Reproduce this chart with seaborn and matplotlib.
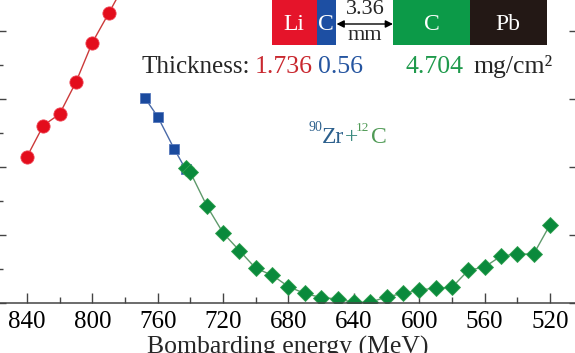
import numpy as np
import pandas as pd
import matplotlib
matplotlib.use('Agg')
import matplotlib.pyplot as plt
import seaborn as sns
from matplotlib.patches import Rectangle
from matplotlib.ticker import MultipleLocator

# data (y in arbitrary units, labels are cropped away)
red_energy = [840, 830, 820, 810, 800, 790, 780]
red_y = [2.15, 2.61, 2.78, 3.25, 3.83, 4.26, 4.70]
blue_energy = [768, 760, 750, 743]
blue_y = [3.02, 2.74, 2.27, 1.97]
green_energy = [743, 740, 730, 720, 710, 700, 690, 680, 670, 660, 650, 640,
                630, 620, 610, 600, 590, 580, 570, 560, 550, 540, 530, 520]
green_y = [1.98, 1.92, 1.43, 1.03, 0.77, 0.51, 0.41, 0.24, 0.14, 0.08, 0.06, 0.01,
           0.01, 0.09, 0.14, 0.19, 0.22, 0.23, 0.48, 0.53, 0.69, 0.72, 0.72, 1.15]
x_ticks = [840, 800, 760, 720, 680, 640, 600, 560, 520]

layers = ['Li', 'C', 'C', 'Pb']
layer_colors = ['#e5142a', '#1d4fa3', '#0c9a48', '#231815']
thickness = ['1.736', '0.56', '4.704']
thick_colors = ['#c9282f', '#2555a0', '#1f9a4c']

sns.set_theme(style='ticks')
plt.rcParams['font.family'] = ['Liberation Serif', 'DejaVu Serif']

fig = plt.figure(figsize=(5.75, 3.53), dpi=100)
ax = fig.add_axes([-1 / 575, 50 / 353, 577 / 575, 340 / 353])

red = pd.DataFrame({'E': red_energy, 'y': red_y})
blue = pd.DataFrame({'E': blue_energy, 'y': blue_y})
green = pd.DataFrame({'E': green_energy, 'y': green_y})

sns.lineplot(data=red, x='E', y='y', sort=False, ax=ax, color='#cc3a3a', lw=1.0,
             marker='o', markersize=9.5, markerfacecolor='#e30d1c',
             markeredgecolor='#ee4050', markeredgewidth=0.6)
sns.lineplot(data=blue, x='E', y='y', sort=False, ax=ax, color='#4a6aa8', lw=1.0,
             marker='s', markersize=7.5, markerfacecolor='#1a4a9e',
             markeredgecolor='#5577bb', markeredgewidth=0.6)
sns.lineplot(data=green, x='E', y='y', sort=False, ax=ax, color='#5f9a6c', lw=1.0,
             marker='D', markersize=8, markerfacecolor='#0a8a3c',
             markeredgecolor='#30a050', markeredgewidth=0.6)

ax.set_xlim(857.1, 504.1)
ax.set_ylim(0, 5)
ax.set_xticks(x_ticks)
ax.xaxis.set_minor_locator(MultipleLocator(20))
ax.yaxis.set_major_locator(MultipleLocator(1))
ax.yaxis.set_minor_locator(MultipleLocator(0.5))
ax.tick_params(which='both', direction='in', colors='#444444', labelcolor='black',
               top=False, right=True, labelleft=False)
ax.tick_params(axis='x', which='major', length=7.5, width=1, labelsize=18, pad=5.5)
ax.tick_params(axis='x', which='minor', length=4, width=1)
ax.tick_params(axis='y', which='major', length=5, width=1)
ax.tick_params(axis='y', which='minor', length=3, width=1, right=False)
for s in ax.spines.values():
    s.set_color('#444444')
    s.set_linewidth(1.1)
ax.set_ylabel('')
ax.set_xlabel('Bombarding energy (MeV)', fontsize=18.5, labelpad=2)

# overlay in pixel coordinates for the target sketch and labels
ov = fig.add_axes([0, 0, 1, 1])
ov.set_xlim(0, 575)
ov.set_ylim(353, 0)
ov.axis('off')
ov.patch.set_alpha(0)

boxes = [(271.7, 45.0), (316.7, 19.3), (393.3, 76.7), (470.0, 76.7)]
for (x0, w), name, c in zip(boxes, layers, layer_colors):
    ov.add_patch(Rectangle((x0, -2), w, 46.5, color=c, lw=0))
    ov.text(x0 + w / 2, 24, name, color='white', fontsize=17, ha='center', va='center')
ov.annotate('', xy=(336.5, 24), xytext=(393, 24),
            arrowprops=dict(arrowstyle='<|-|>', color='black', lw=1.0,
                            mutation_scale=11, shrinkA=0, shrinkB=0))
ov.text(365, 10, '3.36', fontsize=16, ha='center', va='center')
ov.text(365, 36, 'mm', fontsize=16, ha='center', va='center')

ov.text(141, 73, 'Thickness:', fontsize=18, ha='left', va='baseline')
for xpos, t, c in zip([255, 318, 406], thickness, thick_colors):
    ov.text(xpos, 73, t, fontsize=18.5, color=c, ha='left', va='baseline')
ov.text(473, 73, 'mg/cm²', fontsize=18.5, ha='left', va='baseline')

ov.text(322, 131, '90', fontsize=10, color='#2b5f8c', ha='right', va='baseline')
ov.text(322, 143, 'Zr', fontsize=17, color='#2b5f8c', ha='left', va='baseline')
ov.text(344.5, 143, '+', fontsize=17, color='#3b8a80', ha='left', va='baseline')
ov.text(369.5, 131, '12', fontsize=9.5, color='#4f9a55', ha='right', va='baseline')
ov.text(370.5, 143, 'C', fontsize=17, color='#4f9a55', ha='left', va='baseline')

fig.savefig('out.png', dpi=100)
